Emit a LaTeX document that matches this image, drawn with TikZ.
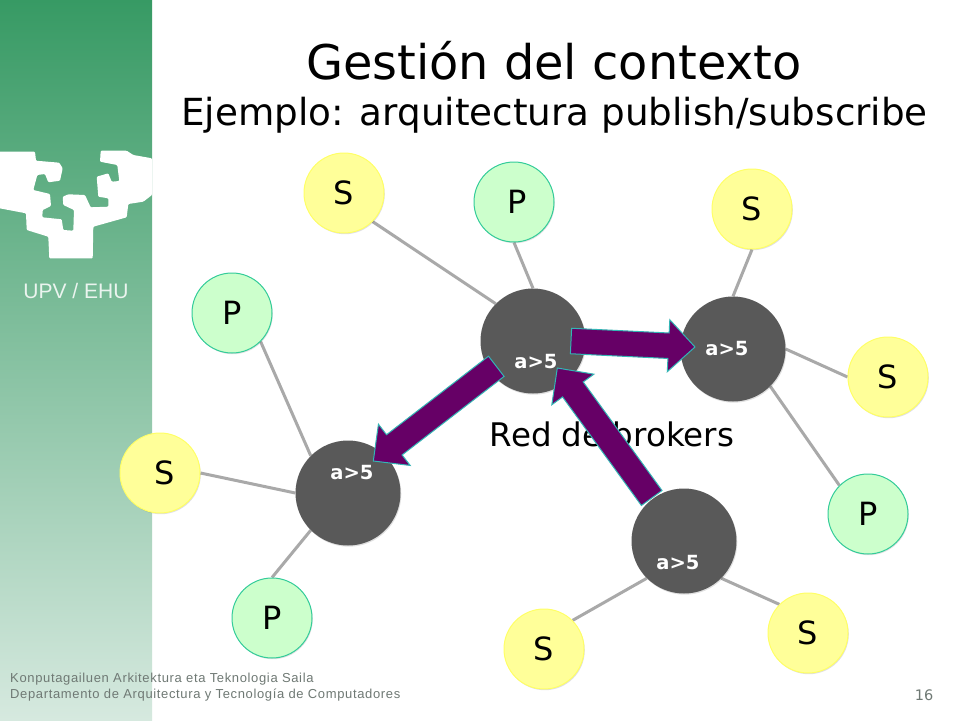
\documentclass[tikz,border=0pt]{standalone}
\usepackage{fontspec}
\setmainfont{DejaVu Sans}
\newfontfamily\arialf{Liberation Sans}
\newfontfamily\arialw[LetterSpace=5]{Liberation Sans}
\usetikzlibrary{calc,backgrounds,shadows}
\definecolor{sbtop}{HTML}{379A64}
\definecolor{sbbot}{HTML}{D6E9DF}
\definecolor{subfill}{HTML}{FFFF99}
\definecolor{subline}{HTML}{FFFF66}
\definecolor{pubfill}{HTML}{CCFFCC}
\definecolor{publine}{HTML}{33CC99}
\definecolor{brokerfill}{HTML}{595959}
\definecolor{edgegray}{HTML}{A9A9A9}
\definecolor{arrowfill}{HTML}{660066}
\definecolor{arrowline}{HTML}{33B5B5}
\definecolor{foot}{HTML}{6F7974}
\tikzset{
  x=1pt,y=-1pt,
  softshadow/.style={drop shadow={shadow xshift=0.8pt,shadow yshift=-1.2pt,opacity=0.12,fill=black}},
  subnode/.style={circle,minimum size=80pt,inner sep=0pt,fill=subfill,draw=subline,line width=1pt,softshadow,font=\fontsize{32}{36}\selectfont},
  pubnode/.style={circle,minimum size=80pt,inner sep=0pt,fill=pubfill,draw=publine,line width=1pt,softshadow,font=\fontsize{32}{36}\selectfont},
  brokernode/.style={circle,minimum size=105pt,inner sep=0pt,fill=brokerfill,softshadow},
  brokerlabel/.style={inner sep=0pt,text=white,font=\fontsize{19.5}{22}\selectfont\bfseries},
  edgeline/.style={draw=edgegray,line width=3pt},
  blockarrow/.style={fill=arrowfill,draw=arrowline,line width=1pt,line join=miter},
}
\newcommand{\blockarr}[2]{%
  \draw[blockarrow]
    ($(#1)!12.75pt!90:(#2)$) --
    ($(#2)!26.5pt!(#1)!12.75pt!-90:(#1)$) --
    ($(#2)!26.5pt!(#1)!26pt!-90:(#1)$) --
    (#2) --
    ($(#2)!26.5pt!(#1)!26pt!90:(#1)$) --
    ($(#2)!26.5pt!(#1)!12.75pt!90:(#1)$) --
    ($(#1)!12.75pt!-90:(#2)$) -- cycle;}
\begin{document}
\begin{tikzpicture}
\useasboundingbox (0,0) rectangle (960,720);
\begin{scope}[on background layer]
\fill[white] (0,0) rectangle (960,720);
\shade[top color=sbtop,bottom color=sbbot] (0,0) rectangle (152,720);
\end{scope}
% logo
\fill[white,rounded corners=1pt] (-2,151.7) -- (35,151.7) -- (36,160.7) -- (59.3,162.7) -- (62.7,168.3) -- (60,180.7) -- (48.3,182.3) -- (45,174) -- (37.3,175) -- (33.3,190) -- (50,194) -- (51,206) -- (42.7,210) -- (42.3,217.3) -- (61.7,219.3) -- (63.3,230) -- (73.3,230.7) -- (74,210) -- (63.3,205) -- (62.7,196.7) -- (68.3,194.3) -- (85,195) -- (90.7,207.3) -- (108.3,206.7) -- (108.3,198.3) -- (98.3,196.7) -- (96.7,176.7) -- (108.3,173.3) -- (111.7,181.7) -- (119.3,181) -- (117.3,165) -- (100,161.7) -- (100.7,150.7) -- (126.7,150.7) -- (133.3,155) -- (152,158.3) -- (152,195) -- (143.3,201.7) -- (128.3,204) -- (126.7,217.3) -- (93.3,226.7) -- (92.7,258.3) -- (49.3,258.3) -- (48.3,236.7) -- (26.7,230) -- (26,213.3) -- (-2,208) -- cycle;
\node[inner sep=0pt,text=sbbot!50!white,font=\arialf\fontsize{21}{23}\selectfont] (upv) at (76,291) {UPV / EHU};
% title
\node[inner sep=0pt,font=\fontsize{47.8}{52}\selectfont] (title) at (554,61) {Gestión del contexto};
\node[inner sep=0pt,font=\fontsize{37.3}{42}\selectfont] (subtitle) at (554.5,115.5) {Ejemplo: arquitectura publish/subscribe};
% satellites
\node[subnode] (s1) at (344,193) {S};
\node[pubnode] (p1) at (514,202) {\hspace*{6pt}P};
\node[subnode] (s2) at (752,209) {S};
\node[subnode] (s3) at (888,377) {S};
\node[pubnode] (p2) at (868,514) {P};
\node[subnode] (s4) at (808,633) {S};
\node[subnode] (s5) at (544,649) {S};
\node[pubnode] (p3) at (272,618) {P};
\node[subnode] (s6) at (160,473) {\hspace*{10pt}S};
\node[pubnode] (p4) at (232,313) {P};
% brokers
\node[brokernode] (b1) at (533,341) {};
\node[brokernode] (b2) at (733,349) {};
\node[brokernode] (b3) at (348,493) {};
\begin{scope}[on background layer]
\draw[edgeline] (s1.-45) -- (b1.135);
\draw[edgeline] (p1.-90) -- (b1.90);
\draw[edgeline] (s2.-90) -- (b2.90);
\draw[edgeline] (s3.180) -- (b2.0);
\draw[edgeline] (p2.135) -- (b2.-45);
\draw[edgeline] (p4.-45) -- (b3.135);
\draw[edgeline] (s6.0) -- (b3.180);
\draw[edgeline] (p3.90) -- (b3.-135);
\end{scope}
\node[inner sep=0pt,font=\fontsize{32.5}{36}\selectfont] (red) at (612,434) {Red de brokers};
\node[brokerlabel] (l1) at (536,362) {a>5};
\node[brokerlabel] (l2) at (727,349) {a>5};
\node[brokerlabel] (l3) at (352,473) {a>5};
% block arrows
\coordinate (a1s) at (571,341);
\coordinate (a1e) at (695,347);
\coordinate (a2s) at (496.3,366.3);
\coordinate (a2e) at (373.3,461);
\coordinate (a3s) at (651.7,498);
\coordinate (a3e) at (557.3,368);
\blockarr{a3s}{a3e}
\blockarr{a1s}{a1e}
\blockarr{a2s}{a2e}
% last broker covers arrow tail
\node[brokernode] (b4) at (684,541) {};
\begin{scope}[on background layer]
\draw[edgeline] (s4.135) -- (b4.-45);
\draw[edgeline] (s5.45) -- (b4.-135);
\end{scope}
\node[brokerlabel] (l4) at (678,563) {a>5};
% footer
\node[anchor=west,inner sep=0pt,text=foot,font=\arialw\fontsize{13}{15}\selectfont] (f1) at (10,679) {Konputagailuen Arkitektura eta Teknologia Saila};
\node[anchor=west,inner sep=0pt,text=foot,font=\arialw\fontsize{13}{15}\selectfont] (f2) at (10,695) {Departamento de Arquitectura y Tecnología de Computadores};
\node[inner sep=0pt,text=foot,font=\fontsize{14.5}{16}\selectfont] (pg) at (924,695) {16};
\end{tikzpicture}
\end{document}
